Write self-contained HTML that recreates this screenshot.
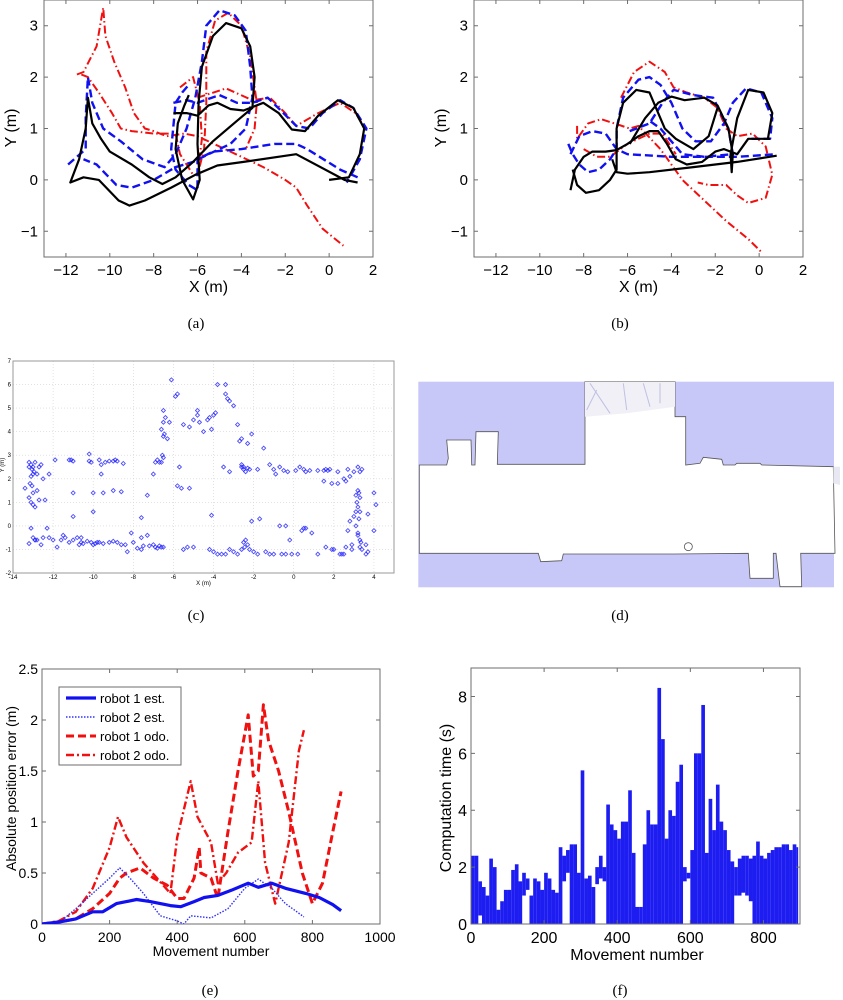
<!DOCTYPE html>
<html><head><meta charset="utf-8"><style>
html,body{margin:0;padding:0;background:#fff;}
svg{display:block;font-family:"Liberation Sans",sans-serif;}
.cap{font-family:"Liberation Serif",serif;font-size:15px;}
</style></head>
<body>
<svg id="fig" width="843" height="1000" viewBox="0 0 843 1000" xmlns="http://www.w3.org/2000/svg">
<defs>
<clipPath id="clipA"><rect x="44" y="0" width="329" height="257"/></clipPath>
<clipPath id="clipB"><rect x="474" y="0" width="329" height="257"/></clipPath>
<clipPath id="clipE"><rect x="42" y="669" width="338" height="255"/></clipPath>
</defs>
<text class="cap" x="196" y="328" text-anchor="middle">(a)</text>
<text class="cap" x="620" y="328" text-anchor="middle">(b)</text>
<text class="cap" x="196" y="620" text-anchor="middle">(c)</text>
<text class="cap" x="620" y="620" text-anchor="middle">(d)</text>
<text class="cap" x="210" y="995" text-anchor="middle">(e)</text>
<text class="cap" x="620" y="995" text-anchor="middle">(f)</text>
</svg>
<script>
// ---------- DATA ----------
// panel a
const aTruth1=[[1.3,-0.05],[0.7,0],[-1.5,0.5],[-3.9,0.35],[-5.1,0.28],[-6.1,0.1],[-7.2,-0.15],[-8.4,-0.4],[-9.1,-0.5],[-9.6,-0.4],[-10.5,0],[-11.2,0.05],[-11.8,-0.05],[-11.4,0.4],[-11.1,1.0],[-11.0,1.6],[-10.8,1.1],[-10.4,0.8],[-10.0,0.55],[-9.0,0.3],[-8.2,0.05],[-7.6,-0.08],[-7.0,0.05],[-6.2,0.35],[-5.3,0.75],[-4.2,1.15],[-3.5,1.4],[-3.4,2.0],[-3.6,2.6],[-4.0,2.95],[-4.7,3.05],[-5.3,2.8],[-5.8,2.2],[-5.95,1.5],[-6.0,0.7],[-5.9,0.0],[-6.2,-0.38],[-6.7,0.0],[-7.0,0.6],[-6.9,1.1],[-6.6,1.45],[-6.4,1.65]];
const aTruth2=[[-7.1,1.3],[-6.5,1.3],[-6.0,1.25],[-5.5,1.45],[-5.1,1.5],[-4.5,1.38],[-3.9,1.35],[-3.0,1.5],[-2.3,1.3],[-1.7,0.98],[-1.1,0.95],[-0.5,1.25],[0.4,1.55],[1.1,1.4],[1.6,1.0],[1.4,0.5],[0.9,0.05],[0.0,0.0]];
const aEst1=[[-11.9,0.3],[-11.5,0.45],[-11.1,0.6],[-11.1,1.2],[-11.0,2.0],[-10.8,1.5],[-10.3,1.0],[-9.5,0.75],[-8.5,0.4],[-7.5,0.25],[-7.0,0.5],[-6.5,1.0],[-6.1,1.6],[-5.8,2.3],[-5.6,3.0],[-5.0,3.3],[-4.3,3.2],[-3.8,2.9],[-3.6,2.2],[-3.5,1.6],[-3.8,1.0],[-4.5,0.7],[-5.5,0.5],[-6.2,0.35],[-7.0,0.25],[-8.0,0.0],[-9.0,-0.15],[-9.7,-0.1],[-10.6,0.3],[-11.2,0.4]];
const aEst2=[[-7.1,1.5],[-6.5,1.55],[-6.0,1.5],[-5.0,1.65],[-4.2,1.5],[-3.5,1.5],[-2.8,1.6],[-2.2,1.35],[-1.5,1.05],[-0.9,1.0],[-0.3,1.3],[0.5,1.55],[1.1,1.4],[1.7,1.0],[1.4,0.4],[0.8,-0.05]];
const aEst3=[[1.3,0.05],[0.5,0.2],[-1.0,0.6],[-1.5,0.7],[-2.5,0.7],[-4.0,0.6],[-5.3,0.55],[-6.0,0.4],[-6.0,-0.2],[-6.4,-0.1],[-7.0,0.2],[-7.2,0.6],[-7.0,1.5],[-6.7,1.7],[-6.4,1.85]];
const aOdo1=[[-11.5,2.05],[-11.2,2.1],[-10.6,2.6],[-10.3,3.35],[-10.2,2.8],[-9.8,2.3],[-9.3,1.8],[-8.9,1.3],[-8.4,1.0],[-8.0,0.95],[-7.4,0.85],[-6.6,0.9],[-6.0,0.85],[-5.0,0.65],[-4.0,0.45],[-3.0,0.25],[-2.0,0.0],[-1.5,-0.15],[-1.0,-0.5],[-0.3,-0.95],[0.65,-1.28]];
const aOdo2=[[-11.3,2.05],[-11.0,2.0],[-10.5,1.7],[-9.9,1.3],[-9.5,1.0],[-9.0,0.95],[-8.0,0.9],[-7.0,0.9],[-6.8,0.5],[-6.5,0.3],[-6.2,0.1]];
const aOdo3=[[-6.8,1.8],[-6.2,2.0],[-5.9,1.5],[-5.8,0.8],[-6.0,0.1],[-5.7,0.6],[-5.6,1.5],[-5.6,2.5],[-5.2,3.1],[-4.6,3.25],[-4.0,3.0],[-3.6,2.4],[-3.3,1.5],[-3.4,1.0],[-3.8,0.6]];
const aOdo4=[[-6.0,1.6],[-4.7,1.78],[-3.5,1.55],[-2.7,1.6],[-2.0,1.3],[-1.5,1.05],[-0.5,1.3],[0.5,1.5],[1.2,1.3],[1.65,1.0]];
// panel b
const bTruth1=[[-8.6,-0.2],[-8.4,0.2],[-8.0,0.45],[-7.6,0.55],[-7.0,0.55],[-6.5,0.58],[-6.0,0.7],[-5.5,0.85],[-5.0,0.95],[-4.6,0.95],[-4.2,0.7],[-3.8,0.4],[-3.3,0.3],[-2.6,0.35],[-2.0,0.55],[-1.6,0.6],[-1.0,0.5],[-0.5,0.8],[0.5,0.8]];
const bTruth2=[[-8.5,0.2],[-8.3,-0.1],[-7.9,-0.25],[-7.3,-0.2],[-6.8,0.0],[-6.5,0.2],[-6.5,1.0],[-6.2,1.5],[-5.6,1.75],[-5.0,1.7],[-4.7,1.4],[-4.3,1.0],[-3.8,0.8],[-3.0,0.6],[-2.3,0.85],[-1.9,1.4]];
const bTruth3=[[-6.7,0.4],[-6.5,0.15],[-6.0,0.12],[-5.0,0.15],[-3.0,0.25],[-1.0,0.35],[0.8,0.47]];
const bTruth4=[[-5.9,0.7],[-5.2,1.2],[-4.6,1.5],[-4.0,1.62],[-3.4,1.55],[-2.5,1.6],[-1.9,1.45],[-1.4,1.0],[-1.2,0.5],[-1.25,0.15],[-1.3,0.5],[-1.0,1.2],[-0.5,1.75],[0.2,1.7],[0.6,1.3],[0.4,0.8]];
const bEst1=[[-8.6,0.5],[-8.2,0.85],[-7.6,0.95],[-7.0,0.9],[-6.5,0.6],[-6.0,0.5],[-4.0,0.45],[-1.0,0.45],[0.8,0.5]];
const bEst2=[[-8.7,0.7],[-8.5,0.5],[-8.2,0.3],[-7.8,0.15],[-7.3,0.2],[-6.8,0.4],[-6.5,0.6],[-6.5,1.0],[-6.2,1.6],[-5.5,1.95],[-5.0,2.0],[-4.5,1.85],[-4.0,1.5],[-3.5,1.0],[-2.9,0.75],[-2.2,0.75],[-1.6,1.1],[-1.2,1.5],[-0.6,1.78],[0.1,1.7],[0.6,1.2],[0.5,0.8],[-0.5,0.8]];
const bEst3=[[-5.9,0.95],[-5.0,1.1],[-4.4,1.5],[-3.9,1.75],[-3.0,1.65],[-2.1,1.6],[-1.4,1.0],[-1.2,0.5],[-2.5,0.45],[-3.5,0.5],[-4.5,1.0],[-5.0,1.15]];
const bOdo1=[[-8.3,1.05],[-8.3,0.8],[-7.8,1.1],[-7.2,1.18],[-6.6,1.1],[-5.9,1.0],[-5.5,1.05],[-4.5,0.6],[-3.5,0.0],[-2.5,-0.4],[-1.5,-0.8],[-0.5,-1.15],[0.1,-1.4]];
const bOdo2=[[-6.3,1.6],[-5.7,2.1],[-5.0,2.3],[-4.3,2.1],[-3.9,1.8],[-3.3,1.7],[-2.5,1.6],[-1.9,1.4],[-1.5,1.0],[-1.0,0.85],[-0.3,0.9],[0.3,0.65],[0.6,0.1],[0.3,-0.35],[-0.5,-0.45],[-1.0,-0.3],[-1.5,-0.1],[-2.3,-0.1],[-2.8,-0.05]];
const bOdo3=[[-8.0,0.6],[-7.4,0.45],[-6.8,0.45],[-6.0,0.7],[-5.0,0.9],[-4.4,0.9],[-3.8,0.5]];
// panel c landmarks
const cX=[-13.2,-13.1,-13.05,-13.0,-12.95,-13.1,-13.0,-12.9,-13.15,-13.05,-12.8,-12.7,-12.6,-12.5,-13.0,-13.1,-12.9,-12.7,-13.2,-13.0,-12.8,-13.1,-13.0,-12.9,-12.6,-12.3,-12.4,-13.4,-13.2,-12.2,-11.9,-11.2,-11.0,-11.1,-10.2,-10.2,-10.1,-9.7,-9.6,-9.4,-9.2,-9.0,-8.9,-8.8,-8.5,-11.0,-10.0,-9.5,-9.0,-8.6,-9.6,-10.0,-11.0,
-13.2,-12.9,-12.5,-12.0,-11.8,-11.6,-11.4,-11.2,-11.0,-10.8,-10.7,-10.6,-10.5,-10.3,-10.1,-9.9,-9.8,-9.7,-9.5,-9.2,-9.0,-8.8,-8.6,-8.4,-8.3,-8.0,-7.8,-7.6,-7.5,-7.2,-7.0,-6.9,-6.8,-6.7,-6.6,-6.5,-12.8,-12.2,-11.5,-10.6,-10.0,-8.1,-7.6,-7.3,
-6.5,-6.55,-6.5,-6.45,-6.6,-6.5,-6.4,-6.5,-6.6,-6.7,-6.9,-7.0,-6.8,-6.3,-6.2,-6.1,-5.9,-5.8,-5.7,-5.5,-5.2,-5.0,-4.8,-4.8,-4.7,-4.5,-4.3,-4.2,-4.1,-4.0,-3.9,-3.8,-3.4,-3.4,-3.3,-3.2,-3.0,-2.8,-2.7,-2.6,-2.6,-2.5,-2.3,-2.1,-1.5,-5.8,-5.6,-5.2,-7.3,-7.6,
-3.5,-3.2,-2.6,-2.5,-2.4,-2.3,-2.2,-1.8,-1.2,-1.0,-0.9,-0.7,-0.5,-0.3,0.1,0.3,0.5,0.6,0.8,1.2,1.5,1.6,1.7,1.8,2.2,2.5,2.6,2.8,3.0,3.2,3.3,-0.4,0.4,0.6,1.5,1.9,2.7,3.7,4.0,
3.1,3.2,3.25,3.3,3.15,3.2,3.3,3.25,3.1,3.2,3.3,3.35,2.9,2.8,3.0,3.1,3.2,3.3,3.4,3.6,3.7,4.0,4.1,2.6,2.4,2.2,2.0,2.7,3.4,
-5.5,-5.3,-5.0,-4.2,-4.0,-3.8,-3.6,-3.4,-3.2,-3.0,-2.8,-2.6,-2.5,-2.45,-2.4,-2.3,-2.2,-2.0,-1.8,-1.4,-1.2,-1.0,-0.6,-0.4,-0.1,0.2,1.2,1.6,1.9,2.3,2.5,2.9,3.6,-4.1,-2.1,-1.7,-0.7,-0.2,0.5,0.9];
const cY=[2.5,2.6,2.4,2.5,2.3,2.1,2.2,2.7,1.8,1.7,2.2,2.5,2.6,2.0,1.4,1.0,0.8,1.1,1.2,0.9,1.5,-0.1,-0.5,-0.6,-0.8,-0.1,1.1,1.6,2.7,2.2,2.8,2.8,2.75,2.8,3.05,2.75,2.7,2.8,2.6,2.7,2.75,2.75,2.8,2.75,2.65,0.4,0.6,1.4,1.5,1.45,2.2,1.4,1.4,
-0.75,-0.6,-0.5,-0.6,-0.9,-0.6,-0.5,-0.7,-0.6,-0.5,-0.8,-0.7,-0.75,-0.65,-0.7,-0.75,-0.7,-0.7,-0.75,-0.7,-0.65,-0.7,-0.8,-0.8,-1.1,-0.7,-0.95,-1.0,-0.85,-0.85,-0.8,-0.9,-0.95,-0.85,-0.9,-0.9,-0.6,-0.5,-0.4,-0.5,-0.8,-0.3,-0.5,-0.4,
2.9,3.0,3.8,3.9,4.1,4.4,4.6,4.9,2.7,2.7,2.7,2.2,2.8,3.7,4.4,6.2,5.5,5.6,2.5,4.3,4.2,4.5,4.7,4.9,4.4,4.0,4.5,4.6,4.1,4.7,4.8,6.0,6.0,5.6,5.4,5.3,5.1,4.3,3.6,3.7,2.6,2.5,3.5,3.9,3.3,1.7,1.6,1.6,1.3,0.35,
2.5,2.3,2.5,2.4,2.3,2.45,2.4,2.4,2.6,2.4,2.2,2.5,2.35,2.3,2.35,2.5,2.4,2.3,2.35,2.35,2.35,2.4,2.35,2.4,2.3,2.0,1.9,2.1,2.3,2.5,2.3,0.0,-0.2,-0.1,1.9,1.8,-0.2,0.5,1.4,
1.3,1.5,1.4,1.2,1.0,0.8,0.6,0.3,0.0,-0.4,-0.6,-0.7,-0.8,0.2,0.4,0.6,-0.3,-0.9,-1.0,-0.8,-1.1,-0.2,0.9,-0.9,-1.2,1.8,-1.0,2.4,2.4,
-1.0,-0.9,-0.9,-1.0,-1.1,-1.2,-1.2,-1.2,-1.0,-1.1,-1.2,-1.0,-0.7,-0.9,-0.6,-0.8,-1.0,-1.1,-1.2,-1.1,-1.2,-1.2,-1.2,-1.2,-1.2,-1.2,-1.2,-0.9,-1.0,-1.2,-1.2,-1.0,-1.2,0.45,0.2,0.3,0.0,-0.6,-0.1,-0.3];
// panel e
const eX1=[0,50,100,150,180,220,280,320,380,410,450,480,520,560,610,640,680,720,780,820,860,885];
const eR1est=[0,0.02,0.05,0.12,0.12,0.2,0.24,0.22,0.18,0.17,0.22,0.26,0.28,0.33,0.4,0.36,0.4,0.35,0.3,0.26,0.19,0.13];
const eX2=[0,50,100,150,200,230,260,300,350,400,420,440,500,550,600,640,680,720,775];
const eR2est=[0,0.01,0.15,0.3,0.45,0.55,0.45,0.3,0.08,0.03,0.0,0.08,0.06,0.15,0.35,0.44,0.35,0.2,0.07];
const eX3=[0,50,100,150,200,230,250,290,330,370,400,420,450,465,470,500,520,550,580,610,625,640,655,670,700,730,770,800,830,860,885];
const eR1odo=[0,0.02,0.05,0.15,0.3,0.45,0.5,0.55,0.45,0.38,0.25,0.25,0.45,0.75,0.5,0.45,0.25,0.9,1.5,2.05,1.45,1.5,2.15,1.8,1.5,1.1,0.5,0.2,0.4,0.9,1.3];
const eX4=[0,50,100,150,200,225,250,300,340,380,400,440,460,500,520,545,580,620,640,660,690,730,760,775];
const eR2odo=[0,0.03,0.12,0.35,0.75,1.05,0.85,0.6,0.45,0.3,0.85,1.4,1.05,0.8,0.4,0.5,0.7,0.8,1.4,0.6,0.2,0.8,1.7,1.9];
const eXTicks=[0,200,400,600,800,1000];
const eYTicks=[0,0.5,1,1.5,2,2.5];
const eLegend=["robot 1 est.","robot 2 est.","robot 1 odo.","robot 2 odo."];
// panel f (sampled every 10 movements)
const fHi=[2.4,2.4,1.5,1.3,1.0,2.3,2.0,0.5,0.8,1.2,1.2,1.9,2.1,1.5,1.8,1.6,1.0,1.6,1.5,1.2,1.8,1.6,1.2,1.1,2.7,2.4,2.6,2.8,2.8,1.8,5.4,1.6,1.7,1.3,2.0,2.4,2.0,4.2,3.5,3.3,3.0,3.6,3.6,4.7,2.5,0.6,0.6,2.8,4.0,3.5,3.5,8.3,6.5,3.0,4.0,3.8,5.0,5.6,2.0,1.8,2.6,6.0,6.0,7.7,2.5,4.4,3.3,4.9,3.6,3.3,2.6,2.2,2.0,2.3,2.4,2.4,2.3,2.4,2.9,2.4,2.3,2.5,2.6,2.7,2.7,2.8,2.8,2.6,2.8,2.7];
const fLo=[0,0,0.3,0,0,0,0,0,0,0,0,0,0,0,1.0,1.2,0,0,0,0,0,0,0,0,0,1.5,1.8,0,0,0,0,0,0,0,1.4,1.6,1.5,0,0,0,0,0,0,0,0,0,0,0,0,0,0,0,0,0,0,0,0,0,1.5,1.6,0,0,0,0,0,0,0,0,0,0,0,0,1.0,1.0,1.1,1.0,0.8,0,0,0,0,0,0,0,0,0,0,0,0,0];
const fStep=10;
const fXTicks=[0,200,400,600,800];
const fYTicks=[0,2,4,6,8];

// ---------- HELPERS ----------
const NS="http://www.w3.org/2000/svg";
const svg=document.getElementById('fig');
function mk(tag,name,attrs,parent){
  const el=document.createElementNS(NS,tag);
  
  
  for(const k in attrs) el.setAttribute(k,attrs[k]);
  (parent||svg).appendChild(el);
  return el;
}
function lin(d0,d1,r0,r1){return v=>r0+(v-d0)*(r1-r0)/(d1-d0);}
function txt(name,x,y,s,size,anchor,extra){
  const t=mk('text',name,Object.assign({x:x,y:y,'font-size':size,'text-anchor':anchor||'middle',fill:'#000'},extra||{}));
  t.textContent=s;return t;
}
function frame(name,x0,y0,x1,y1,col){
  mk('rect',name,{x:x0,y:y0,width:x1-x0,height:y1-y0,fill:'none',stroke:col||'#6e6e6e','stroke-width':1});
}
function ticks(name,xs,ys,sx,sy,x0,y0,x1,y1,len){
  let d='';
  xs.forEach(v=>{const p=sx(v);d+=`M${p},${y1}v${-len}M${p},${y0}v${len}`;});
  ys.forEach(v=>{const p=sy(v);d+=`M${x0},${p}h${len}M${x1},${p}h${-len}`;});
  mk('path',name,{d:d,stroke:'#6e6e6e','stroke-width':1,fill:'none'});
}
function poly(name,pts,sx,sy,style,clip){
  const a=Object.assign({points:pts.map(p=>sx(p[0]).toFixed(1)+','+sy(p[1]).toFixed(1)).join(' '),fill:'none','stroke-linejoin':'round'},style);
  if(clip) a['clip-path']=clip;
  mk('polyline',name,a);
}

// ---------- PANELS a, b ----------
const trajTicksX=[-12,-10,-8,-6,-4,-2,0,2], trajTicksY=[-1,0,1,2,3];
const sTruth={stroke:'#000','stroke-width':2.2};
const sEst={stroke:'#1010f0','stroke-width':2.4,'stroke-dasharray':'8,4'};
const sOdo={stroke:'#f01010','stroke-width':2,'stroke-dasharray':'8,3,1.5,3'};
function trajPanel(p,x0,x1,clip,truth,est,odo){
  const sx=lin(-13,2,x0,x1), sy=lin(-1.5,3.5,257,0);
  frame('plot-frame-'+p,x0,0,x1,257);
  ticks('axis-ticks-'+p,trajTicksX,trajTicksY,sx,sy,x0,0,x1,257,4);
  trajTicksX.forEach(v=>txt('x-tick-'+p,sx(v),275,(v<0?'\u2212':'')+Math.abs(v),15));
  trajTicksY.forEach(v=>txt('y-tick-'+p,x0-6,sy(v)+5,(v<0?'\u2212':'')+Math.abs(v),15,'end'));
  txt('x-axis-title-'+p,(x0+x1)/2,292,'X (m)',16);
  txt('y-axis-title-'+p,0,0,'Y (m)',16,'middle',{transform:`translate(${x0-28},128) rotate(-90)`});
  odo.forEach(t=>poly('odometry-path-'+p,t,sx,sy,sOdo,clip));
  est.forEach(t=>poly('estimated-path-'+p,t,sx,sy,sEst,clip));
  truth.forEach(t=>poly('ground-truth-path-'+p,t,sx,sy,sTruth,clip));
}
trajPanel('a',44,373,'url(#clipA)',[aTruth1,aTruth2],[aEst1,aEst2,aEst3],[aOdo1,aOdo2,aOdo3,aOdo4]);
trajPanel('b',474,803,'url(#clipB)',[bTruth1,bTruth2,bTruth3,bTruth4],[bEst1,bEst2,bEst3],[bOdo1,bOdo2,bOdo3]);

// ---------- PANEL c ----------
(function(){
  const x0=13,x1=394,y0=361,y1=573;
  const sx=lin(-14,5,x0,x1), sy=lin(-2,7,y1,y0);
  const gx=[-12,-10,-8,-6,-4,-2,0,2,4], gy=[-1,0,1,2,3,4,5,6];
  let d='';
  gx.forEach(v=>d+=`M${sx(v)},${y0}V${y1}`);
  gy.forEach(v=>d+=`M${x0},${sy(v)}H${x1}`);
  mk('path','grid-c',{d:d,stroke:'#d0d0d0','stroke-width':0.6,'stroke-dasharray':'1,2',fill:'none'});
  frame('plot-frame-c',x0,y0,x1,y1,'#9a9a9a');
  [-14,-12,-10,-8,-6,-4,-2,0,2,4].forEach(v=>txt('x-tick-c',sx(v),579,(v<0?'-':'')+Math.abs(v),6));
  [-2,-1,0,1,2,3,4,5,6,7].forEach(v=>txt('y-tick-c',x0-2,sy(v)+2,(v<0?'-':'')+Math.abs(v),6,'end'));
  txt('x-axis-title-c',(x0+x1)/2,585,'X (m)',6);
  txt('y-axis-title-c',0,0,'Y (m)',6,'middle',{transform:'translate(4,465) rotate(-90)'});
  const g=mk('g','landmarks-c',{fill:'none',stroke:'#2020ff','stroke-width':0.9,'stroke-opacity':0.8});
  for(let i=0;i<cX.length;i++){
    const px=sx(cX[i]),py=sy(cY[i]);
    const el=document.createElementNS(NS,'path');
    
    
    el.setAttribute('d',`M${px-2},${py}L${px},${py-2}L${px+2},${py}L${px},${py+2}Z`);
    g.appendChild(el);
  }
})();

// ---------- PANEL d (map image) ----------
(function(){
  const T=(x,y)=>(410+x/3).toFixed(1)+','+(370+y/3).toFixed(1);
  mk('rect','map-background',{x:418.3,y:381.7,width:415.7,height:205.6,fill:'#c8c8f8'});
  const pts=[[28,285],[110,285],[115,265],[110,210],[183,210],[185,285],[195,285],[198,185],[265,185],[262,283],[525,283],[525,35],[795,35],[795,140],[827,140],[827,285],[870,280],[880,262],[935,268],[940,285],[975,285],[980,280],[1050,280],[1055,285],[1270,290],[1275,550],[1172,550],[1175,650],[1110,650],[1098,550],[1090,550],[1090,625],[1020,625],[1015,550],[795,552],[460,552],[455,572],[392,575],[385,550],[28,550]];
  mk('polygon','map-free-space',{points:pts.map(p=>T(p[0],p[1])).join(' '),fill:'#fff',stroke:'#555','stroke-width':0.8});
  mk('polygon','map-scan-area-top',{points:[T(525,35),T(795,35),T(795,110),T(650,130),T(525,140)].join(' '),fill:'#f0f0f6',stroke:'none'});
  mk('path','map-scan-rays',{d:`M${T(540,40)}L${T(600,130)}M${T(640,40)}L${T(650,120)}M${T(700,40)}L${T(720,110)}M${T(750,40)}L${T(750,100)}M${T(560,60)}L${T(530,120)}`,stroke:'#c0c0e4','stroke-width':1,fill:'none'});
  mk('polygon','map-scan-area-right',{points:[T(1270,290),T(1290,290),T(1290,345),T(1270,340)].join(' '),fill:'#e8e8f2'});
  mk('circle','map-pillar',{cx:410+835/3,cy:370+530/3,r:4,fill:'#fff',stroke:'#555','stroke-width':0.8});
})();

// ---------- PANEL e ----------
(function(){
  const x0=42,x1=380,y0=669,y1=924;
  const sx=lin(0,1000,x0,x1), sy=lin(0,2.5,y1,y0);
  frame('plot-frame-e',x0,y0,x1,y1);
  ticks('axis-ticks-e',eXTicks,eYTicks,sx,sy,x0,y0,x1,y1,4);
  eXTicks.forEach(v=>txt('x-tick-e',sx(v),942,String(v),14));
  eYTicks.forEach(v=>txt('y-tick-e',x0-4,sy(v)+5,String(v),14,'end'));
  txt('x-axis-title-e',211,956,'Movement number',14);
  txt('y-axis-title-e',0,0,'Absolute position error (m)',14,'middle',{transform:`translate(16,${(y0+y1)/2-8}) rotate(-90)`});
  const st=[{stroke:'#1010f0','stroke-width':3.2},{stroke:'#3030ff','stroke-width':1.4,'stroke-dasharray':'1.5,1.5'},{stroke:'#f01010','stroke-width':3,'stroke-dasharray':'8,4'},{stroke:'#f01010','stroke-width':2.4,'stroke-dasharray':'8,3,2,3'}];
  const xs=[eX1,eX2,eX3,eX4], ys=[eR1est,eR2est,eR1odo,eR2odo];
  const nm=['series-robot1-est','series-robot2-est','series-robot1-odo','series-robot2-odo'];
  [3,2,1,0].forEach(i=>poly(nm[i],xs[i].map((x,j)=>[x,ys[i][j]]),sx,sy,st[i],'url(#clipE)'));
  mk('rect','legend-box-e',{x:59,y:687,width:122,height:78,fill:'#fff',stroke:'#6e6e6e','stroke-width':1});
  eLegend.forEach((s,i)=>{
    const y=698+i*19;
    mk('line','legend-swatch',Object.assign({x1:66,x2:96,y1:y,y2:y},st[i]));
    txt('legend-entry',100,y+5,s,13,'start');
  });
})();

// ---------- PANEL f ----------
(function(){
  const x0=471,x1=800,y0=668,y1=924;
  const sx=lin(0,900,x0,x1), sy=lin(0,9,y1,y0);
  const g=mk('g','computation-time-series',{fill:'#0a0af0','fill-opacity':0.92});
  for(let i=0;i<fHi.length;i++){
    const el=document.createElementNS(NS,'rect');
    
    
    const xa=sx(i*fStep), xb=sx(Math.min((i+1)*fStep,895));
    el.setAttribute('x',xa);el.setAttribute('width',Math.max(0.5,xb-xa));
    el.setAttribute('y',sy(fHi[i]));el.setAttribute('height',Math.max(0.5,sy(fLo[i])-sy(fHi[i])));
    g.appendChild(el);
  }
  frame('plot-frame-f',x0,y0,x1,y1);
  ticks('axis-ticks-f',fXTicks,fYTicks,sx,sy,x0,y0,x1,y1,4);
  fXTicks.forEach(v=>txt('x-tick-f',sx(v),943,String(v),16));
  fYTicks.forEach(v=>txt('y-tick-f',x0-4,sy(v)+6,String(v),16,'end'));
  txt('x-axis-title-f',637,960,'Movement number',16);
  txt('y-axis-title-f',0,0,'Computation time (s)',16,'middle',{transform:`translate(451,${(y0+y1)/2+2}) rotate(-90)`});
})();
</script>
</body></html>
